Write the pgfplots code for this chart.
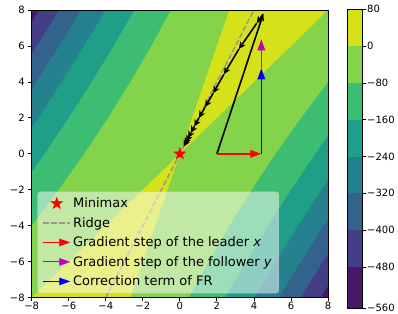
\documentclass[border=0pt]{standalone}
\usepackage{fontspec}
\setmainfont{DejaVu Sans}
\usepackage{pgfplots}
\pgfplotsset{compat=1.18}
\usetikzlibrary{arrows.meta}

\definecolor{mplm}{rgb}{0.75,0,0.75}
\definecolor{ridgegray}{RGB}{150,150,150}
\definecolor{vA}{RGB}{72,24,106}
\definecolor{vB}{RGB}{67,62,133}
\definecolor{vC}{RGB}{51,99,141}
\definecolor{vD}{RGB}{38,129,142}
\definecolor{vE}{RGB}{31,159,136}
\definecolor{vF}{RGB}{61,188,116}
\definecolor{vG}{RGB}{132,212,75}
\definecolor{vH}{RGB}{213,226,26}

\pgfdeclareplotmark{fstar}{%
  \pgfpathmoveto{\pgfpointpolar{90}{\pgfplotmarksize}}%
  \pgfpathlineto{\pgfpointpolar{126}{0.4\pgfplotmarksize}}%
  \pgfpathlineto{\pgfpointpolar{162}{\pgfplotmarksize}}%
  \pgfpathlineto{\pgfpointpolar{198}{0.4\pgfplotmarksize}}%
  \pgfpathlineto{\pgfpointpolar{234}{\pgfplotmarksize}}%
  \pgfpathlineto{\pgfpointpolar{270}{0.4\pgfplotmarksize}}%
  \pgfpathlineto{\pgfpointpolar{306}{\pgfplotmarksize}}%
  \pgfpathlineto{\pgfpointpolar{342}{0.4\pgfplotmarksize}}%
  \pgfpathlineto{\pgfpointpolar{18}{\pgfplotmarksize}}%
  \pgfpathlineto{\pgfpointpolar{54}{0.4\pgfplotmarksize}}%
  \pgfpathclose
  \pgfusepathqfillstroke
}

\begin{document}
\begin{tikzpicture}
\useasboundingbox (0pt,0pt) rectangle (398pt,313pt);
\begin{axis}[
  at={(31.7pt,15.3pt)}, anchor=south west,
  width=296.3pt, height=287.7pt, scale only axis,
  xmin=-8, xmax=8, ymin=-8, ymax=8,
  xtick={-8,-6,...,8}, ytick={-8,-6,...,8},
  xticklabels={−8,−6,−4,−2,0,2,4,6,8},
  yticklabels={−8,−6,−4,−2,0,2,4,6,8},
  xtick pos=left, ytick pos=left,
  tick align=outside, major tick length=3.5pt,
  tick style={line width=0.8pt, black},
  axis line style={line width=0.8pt},
  ticklabel style={font=\fontsize{10}{12}\selectfont},
  xticklabel style={inner sep=1pt},
  axis on top,
  legend cell align=left,
  legend image code/.code={\draw[mark repeat=2,mark phase=2,fill opacity=1,draw opacity=1,#1] plot coordinates {(0pt,0pt) (13.5pt,0pt) (27pt,0pt)};},
  legend style={
    at={(0.019,0.0153)}, anchor=south west,
    fill=white, fill opacity=0.5, text opacity=1,
    draw={rgb,255:red,204;green,204;blue,204}, draw opacity=0.8,
    rounded corners=3pt,
    font=\fontsize{13}{15.6}\selectfont,
    inner xsep=5pt, inner ysep=4pt,
    row sep=4.1pt,
    /tikz/every even column/.append style={column sep=16.7pt},
  },
]
% filled contours of f: band -560..-480 (background), then regions f >= level
\addplot[fill=vA, draw=none, forget plot] coordinates {(-8,-8) (8,-8) (8,8) (-8,8)};
% f >= -480
\addplot[fill=vB, draw=none, forget plot] coordinates {
(7.594,-8) (8.806,-6) (10.053,-4) (11.333,-2) (12.649,0) (14,2) (15.386,4) (16.806,6) (18.260,8)
(-7.594,8) (-8.806,6) (-10.053,4) (-11.333,2) (-12.649,0) (-14,-2) (-15.386,-4) (-16.806,-6) (-18.260,-8)};
% f >= -400
\addplot[fill=vC, draw=none, forget plot] coordinates {
(6.518,-8) (7.719,-6) (8.957,-4) (10.233,-2) (11.547,0) (12.900,2) (14.290,4) (15.719,6) (17.184,8)
(-6.518,8) (-7.719,6) (-8.957,4) (-10.233,2) (-11.547,0) (-12.900,-2) (-14.290,-4) (-15.719,-6) (-17.184,-8)};
% f >= -320
\addplot[fill=vD, draw=none, forget plot] coordinates {
(5.333,-8) (6.520,-6) (7.747,-4) (9.016,-2) (10.328,0) (11.683,2) (13.080,4) (14.520,6) (16,8)
(-5.333,8) (-6.520,6) (-7.747,4) (-9.016,2) (-10.328,0) (-11.683,-2) (-13.080,-4) (-14.520,-6) (-16,-8)};
% f >= -240
\addplot[fill=vE, draw=none, forget plot] coordinates {
(4,-8) (5.165,-6) (6.376,-4) (7.636,-2) (8.944,0) (10.302,2) (11.710,4) (13.165,6) (14.667,8)
(-4,8) (-5.165,6) (-6.376,4) (-7.636,2) (-8.944,0) (-10.302,-2) (-11.710,-4) (-13.165,-6) (-14.667,-8)};
% f >= -160
\addplot[fill=vF, draw=none, forget plot] coordinates {
(2.441,-8) (3.572,-6) (4.757,-4) (6,-2) (7.303,0) (8.667,2) (10.090,4) (11.572,6) (13.108,8)
(-2.441,8) (-3.572,6) (-4.757,4) (-6,2) (-7.303,0) (-8.667,-2) (-10.090,-4) (-11.572,-6) (-13.108,-8)};
% f >= -80
\addplot[fill=vG, draw=none, forget plot] coordinates {
(0.479,-8) (1.538,-6) (2.667,-4) (3.873,-2) (5.164,0) (6.540,2) (8,4) (9.538,6) (11.145,8)
(-0.479,8) (-1.538,6) (-2.667,4) (-3.873,2) (-5.164,0) (-6.540,-2) (-8,-4) (-9.538,-6) (-11.145,-8)};
% f >= 0
\addplot[fill=vH, draw=none, forget plot] coordinates {(0,0) (2.667,8) (8,8)};
\addplot[fill=vH, draw=none, forget plot] coordinates {(0,0) (-2.667,-8) (-8,-8)};
% ridge
\addplot[ridgegray, line width=1.5pt, dash pattern=on 5.5pt off 2.4pt, forget plot] coordinates {(-4,-8) (4,8)};
% FR trajectory
\addplot[black, line width=1.6pt, -{Stealth[length=7pt,width=6.5pt,inset=2pt]}, quiver={u=\thisrow{u}, v=\thisrow{v}}, forget plot] table {
x y u v
4.50 7.77 -0.35 -0.51
4.15 7.26 -0.96 -1.43
3.19 5.83 -0.81 -1.40
2.38 4.43 -0.58 -1.06
1.80 3.37 -0.44 -0.77
1.36 2.60 -0.33 -0.61
1.03 1.99 -0.25 -0.47
0.78 1.52 -0.19 -0.36
0.59 1.16 -0.14 -0.28
0.45 0.88 -0.11 -0.21
0.34 0.67 -0.08 -0.16
0.26 0.51 -0.06 -0.12
};
\addplot[black, line width=1.6pt, -{Stealth[length=7pt,width=6.5pt,inset=2pt]}, forget plot] coordinates {(2,0) (4.5,7.77)};
% update components
\addplot[red, line width=1.6pt, -{Triangle[length=11pt,width=7.5pt]}, forget plot] coordinates {(2,0) (4.4,0)};
\addplot[mplm, line width=1.6pt, -{Triangle[length=11pt,width=7.5pt]}, forget plot] coordinates {(4.4,4.76) (4.4,6.37)};
\addplot[blue, line width=1.6pt, -{Triangle[length=11pt,width=7.5pt]}, forget plot] coordinates {(4.4,0) (4.4,4.76)};
% minimax
\addplot[only marks, mark=fstar, mark size=6pt, mark options={draw=red, fill=red, line width=0.5pt}, forget plot] coordinates {(0,0)};
% legend
\addlegendimage{only marks, mark=fstar, mark size=6pt, mark options={draw=red, fill=red, line width=0.5pt}}
\addlegendentry{Minimax}
\addlegendimage{ridgegray, line width=1.5pt, dash pattern=on 5.5pt off 2.4pt}
\addlegendentry{Ridge}
\addlegendimage{red, line width=0.9pt, -{Triangle[length=11pt,width=7.5pt]}}
\addlegendentry{Gradient step of the leader \textit{x}}
\addlegendimage{mplm, line width=0.9pt, -{Triangle[length=11pt,width=7.5pt]}}
\addlegendentry{Gradient step of the follower \textit{y}}
\addlegendimage{blue, line width=0.9pt, -{Triangle[length=11pt,width=7.5pt]}}
\addlegendentry{Correction term of FR}
\end{axis}
% colorbar: positions are band indices (lowest band drawn taller, as in the reference)
\begin{axis}[
  at={(347.3pt,4.7pt)}, anchor=south west,
  width=15.2pt, height=299pt, scale only axis,
  xmin=0, xmax=1, ymin=0, ymax=8.123,
  xtick=\empty,
  ytick={0,1.123,2.123,3.123,4.123,5.123,6.123,7.123,8.123},
  yticklabels={−560,−480,−400,−320,−240,−160,−80,0,80},
  ytick pos=right, yticklabel pos=right,
  yticklabel style={anchor=west, inner sep=1.5pt},
  tick align=outside, major tick length=3pt,
  tick style={line width=0.8pt, black},
  axis line style={line width=0.8pt},
  ticklabel style={font=\fontsize{10}{12}\selectfont},
  axis on top,
]
\addplot[fill=vA, draw=none] coordinates {(0,0) (1,0) (1,1.123) (0,1.123)};
\addplot[fill=vB, draw=none] coordinates {(0,1.123) (1,1.123) (1,2.123) (0,2.123)};
\addplot[fill=vC, draw=none] coordinates {(0,2.123) (1,2.123) (1,3.123) (0,3.123)};
\addplot[fill=vD, draw=none] coordinates {(0,3.123) (1,3.123) (1,4.123) (0,4.123)};
\addplot[fill=vE, draw=none] coordinates {(0,4.123) (1,4.123) (1,5.123) (0,5.123)};
\addplot[fill=vF, draw=none] coordinates {(0,5.123) (1,5.123) (1,6.123) (0,6.123)};
\addplot[fill=vG, draw=none] coordinates {(0,6.123) (1,6.123) (1,7.123) (0,7.123)};
\addplot[fill=vH, draw=none] coordinates {(0,7.123) (1,7.123) (1,8.123) (0,8.123)};
\end{axis}
\end{tikzpicture}
\end{document}
